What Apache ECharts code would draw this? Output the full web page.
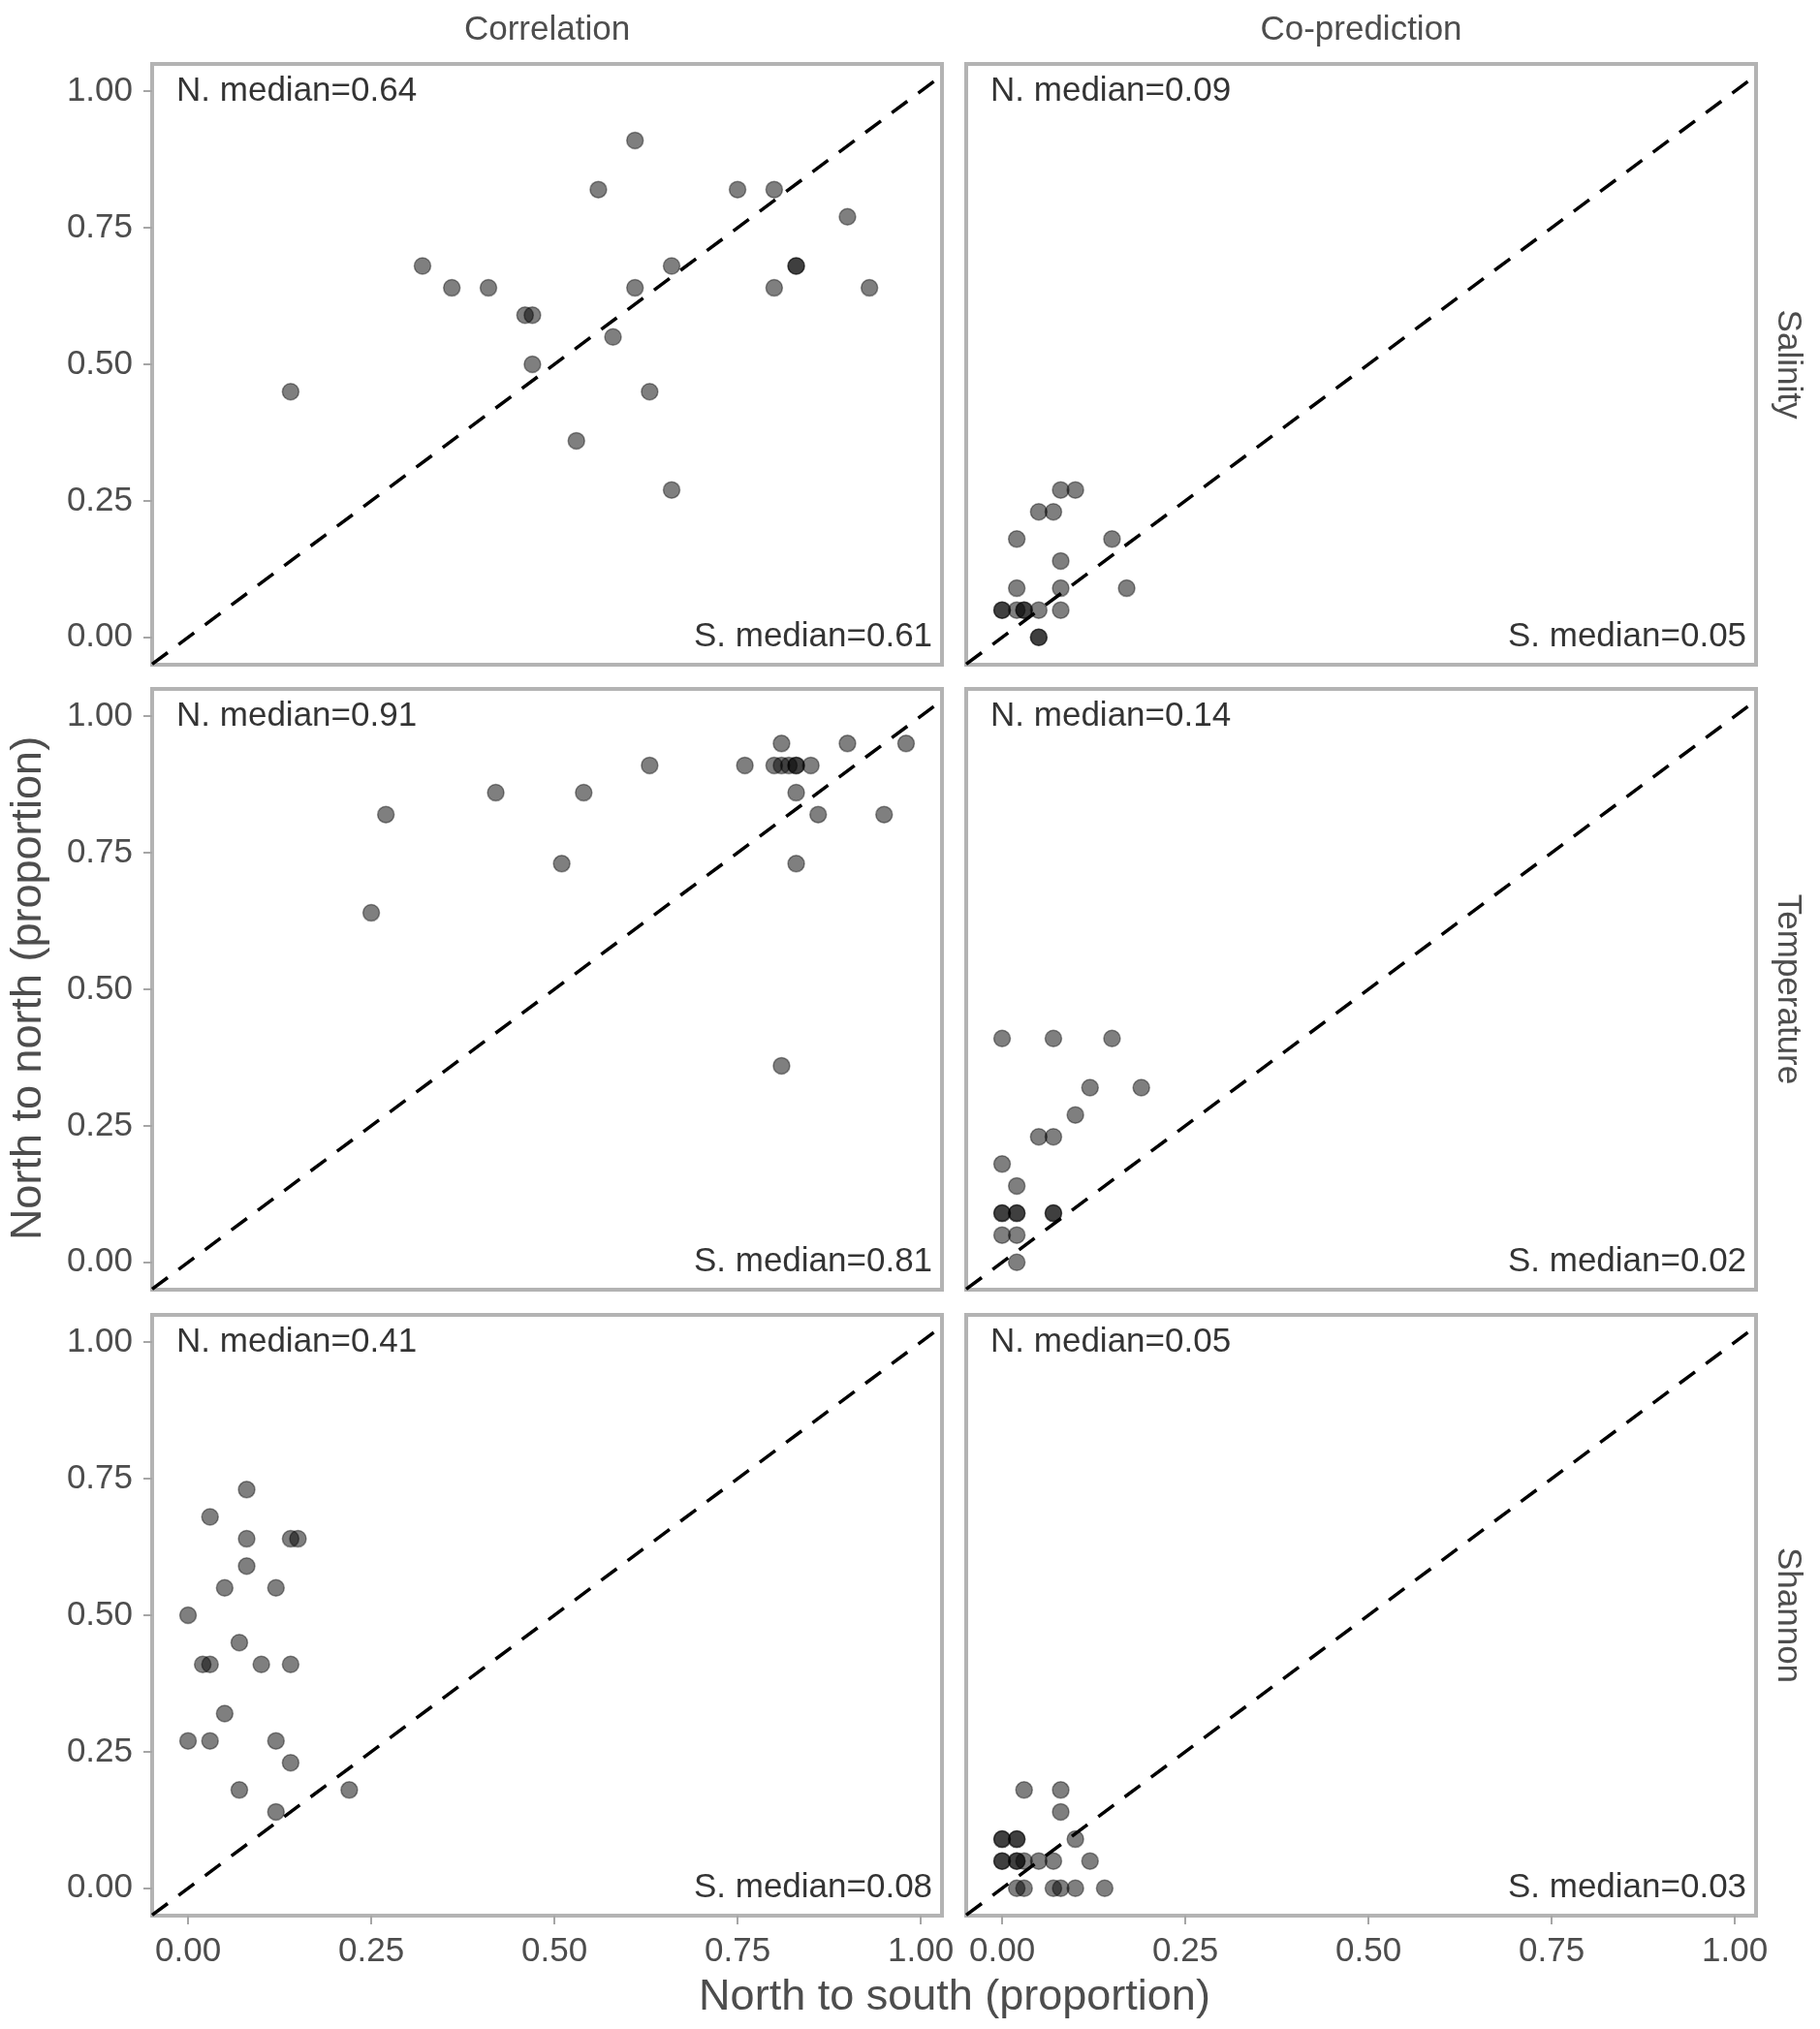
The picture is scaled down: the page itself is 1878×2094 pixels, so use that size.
<!DOCTYPE html>
<html>
<head>
<meta charset="utf-8">
<title>North to north vs north to south</title>
<style>
  html, body { margin: 0; padding: 0; background: #fff; }
  #main { width: 1878px; height: 2094px; }
</style>
</head>
<body>
<div id="main"></div>
<script src="https://cdn.jsdelivr.net/npm/echarts@6.0.0/dist/echarts.min.js"></script>
<script>
  // facet names
  var colNames = ['Correlation', 'Co-prediction'];
  var rowNames = ['Salinity', 'Temperature', 'Shannon'];
  var tickValues = [0, 0.25, 0.5, 0.75, 1];

  // Salinity - correlation
  var corSalX = [0.14, 0.32, 0.36, 0.41, 0.46, 0.47, 0.47, 0.53, 0.56, 0.58, 0.61, 0.61, 0.63, 0.66, 0.66, 0.75, 0.80, 0.80, 0.83, 0.83, 0.90, 0.93];
  var corSalY = [0.45, 0.68, 0.64, 0.64, 0.59, 0.59, 0.50, 0.36, 0.82, 0.55, 0.91, 0.64, 0.45, 0.68, 0.27, 0.82, 0.82, 0.64, 0.68, 0.68, 0.77, 0.64];
  // Salinity - co-prediction
  var copSalX = [0.02, 0.05, 0.07, 0.08, 0.10, 0.15, 0.08, 0.02, 0.08, 0.17, 0.00, 0.00, 0.02, 0.03, 0.03, 0.05, 0.08, 0.05, 0.05];
  var copSalY = [0.18, 0.23, 0.23, 0.27, 0.27, 0.18, 0.14, 0.09, 0.09, 0.09, 0.05, 0.05, 0.05, 0.05, 0.05, 0.05, 0.05, 0.00, 0.00];
  // Temperature - correlation
  var corTempX = [0.25, 0.27, 0.42, 0.51, 0.54, 0.63, 0.76, 0.80, 0.81, 0.81, 0.81, 0.82, 0.83, 0.83, 0.83, 0.83, 0.85, 0.86, 0.90, 0.95, 0.98];
  var corTempY = [0.64, 0.82, 0.86, 0.73, 0.86, 0.91, 0.91, 0.91, 0.95, 0.91, 0.36, 0.91, 0.91, 0.91, 0.86, 0.73, 0.91, 0.82, 0.95, 0.82, 0.95];
  // Temperature - co-prediction
  var copTempX = [0.00, 0.07, 0.15, 0.12, 0.19, 0.10, 0.05, 0.07, 0.00, 0.02, 0.00, 0.00, 0.02, 0.02, 0.07, 0.07, 0.00, 0.02, 0.02];
  var copTempY = [0.41, 0.41, 0.41, 0.32, 0.32, 0.27, 0.23, 0.23, 0.18, 0.14, 0.09, 0.09, 0.09, 0.09, 0.09, 0.09, 0.05, 0.05, 0.00];
  // Shannon - correlation
  var corShanX = [0.08, 0.03, 0.08, 0.14, 0.15, 0.08, 0.05, 0.12, 0.00, 0.07, 0.02, 0.03, 0.10, 0.14, 0.05, 0.00, 0.03, 0.12, 0.14, 0.07, 0.22, 0.12];
  var corShanY = [0.73, 0.68, 0.64, 0.64, 0.64, 0.59, 0.55, 0.55, 0.50, 0.45, 0.41, 0.41, 0.41, 0.41, 0.32, 0.27, 0.27, 0.27, 0.23, 0.18, 0.18, 0.14];
  // Shannon - co-prediction
  var copShanX = [0.03, 0.08, 0.08, 0.10, 0.00, 0.00, 0.02, 0.02, 0.00, 0.00, 0.02, 0.02, 0.03, 0.05, 0.07, 0.12, 0.02, 0.03, 0.07, 0.08, 0.10, 0.14];
  var copShanY = [0.18, 0.18, 0.14, 0.09, 0.09, 0.09, 0.09, 0.09, 0.05, 0.05, 0.05, 0.05, 0.05, 0.05, 0.05, 0.05, 0.00, 0.00, 0.00, 0.00, 0.00, 0.00];

  var nMedian = ['0.64', '0.09', '0.91', '0.14', '0.41', '0.05'];
  var sMedian = ['0.61', '0.05', '0.81', '0.02', '0.08', '0.03'];

  var panelX = [corSalX, copSalX, corTempX, copTempX, corShanX, copShanX];
  var panelY = [corSalY, copSalY, corTempY, copTempY, corShanY, copShanY];

  var font = '"Liberation Sans", Arial, sans-serif';
  var colLeft = [157, 997];
  var rowTop = [66, 711, 1357];
  var panelW = 815, panelH = 620;

  var grids = [], xAxes = [], yAxes = [], series = [];

  for (var r = 0; r < 3; r++) {
    for (var c = 0; c < 2; c++) {
      var i = r * 2 + c;
      grids.push({
        left: colLeft[c], top: rowTop[r], width: panelW, height: panelH,
        show: true, borderColor: '#b3b3b3', borderWidth: 4, backgroundColor: '#fff'
      });
      xAxes.push({
        gridIndex: i, type: 'value', min: -0.049, max: 1.029,
        axisLine: { show: false, onZero: false }, splitLine: { show: false },
        axisTick: { show: r === 2, length: 9, customValues: tickValues, lineStyle: { color: '#a6a6a6', width: 2 } },
        axisLabel: {
          show: r === 2, customValues: tickValues, margin: 20,
          fontSize: 35, fontFamily: font, color: '#4d4d4d',
          formatter: function (v) { return v.toFixed(2); }
        }
      });
      yAxes.push({
        gridIndex: i, type: 'value', min: -0.05, max: 1.05,
        axisLine: { show: false, onZero: false }, splitLine: { show: false },
        axisTick: { show: c === 0, length: 9, customValues: tickValues, lineStyle: { color: '#a6a6a6', width: 2 } },
        axisLabel: {
          show: c === 0, customValues: tickValues, margin: 20,
          fontSize: 35, fontFamily: font, color: '#4d4d4d',
          formatter: function (v) { return v.toFixed(2); }
        }
      });

      var pts = [];
      for (var k = 0; k < panelX[i].length; k++) pts.push([panelX[i][k], panelY[i][k]]);

      series.push({
        type: 'scatter', xAxisIndex: i, yAxisIndex: i, data: pts,
        symbol: 'circle', symbolSize: 17, silent: true, z: 3,
        itemStyle: { color: 'rgba(0,0,0,0.5)', borderColor: 'rgba(0,0,0,0.4)', borderWidth: 1.5, opacity: 1 }
      });
      // 1:1 line
      series.push({
        type: 'line', xAxisIndex: i, yAxisIndex: i, data: [[-0.049, -0.049], [1.029, 1.029]],
        symbol: 'none', silent: true, z: 4,
        lineStyle: { color: '#000', width: 3.5, type: [20, 14] }
      });
      // median labels
      series.push({
        type: 'scatter', xAxisIndex: i, yAxisIndex: i, data: [[0, 1]],
        symbolSize: 0, silent: true, z: 5,
        label: { show: true, position: 'right', distance: 0, offset: [-12, 0], formatter: 'N. median=' + nMedian[i],
                 fontSize: 35, fontFamily: font, color: '#000' }
      });
      series.push({
        type: 'scatter', xAxisIndex: i, yAxisIndex: i, data: [[1, 0]],
        symbolSize: 0, silent: true, z: 5,
        label: { show: true, position: 'left', distance: 0, offset: [12, 0], formatter: 'S. median=' + sMedian[i],
                 fontSize: 35, fontFamily: font, color: '#000' }
      });
    }
  }

  function txt(s, x, y, size, rot) {
    return {
      type: 'text', x: x, y: y, rotation: rot || 0, silent: true,
      style: { text: s, fontSize: size, fontFamily: font, fill: '#4d4d4d',
               align: 'center', verticalAlign: 'middle', textAlign: 'center', textVerticalAlign: 'middle' }
    };
  }

  var graphics = [];
  for (var c2 = 0; c2 < 2; c2++) graphics.push(txt(colNames[c2], colLeft[c2] + panelW / 2, 31, 35));
  for (var r2 = 0; r2 < 3; r2++) graphics.push(txt(rowNames[r2], 1845, rowTop[r2] + panelH / 2, 35, -Math.PI / 2));
  graphics.push(txt('North to south (proportion)', 985, 2062, 45));
  graphics.push(txt('North to north (proportion)', 30, 1020, 45, Math.PI / 2));

  var myChart = echarts.init(document.getElementById('main'));
  myChart.setOption({
    animation: false,
    backgroundColor: '#fff',
    grid: grids,
    xAxis: xAxes,
    yAxis: yAxes,
    series: series,
    graphic: graphics
  });
</script>
</body>
</html>
